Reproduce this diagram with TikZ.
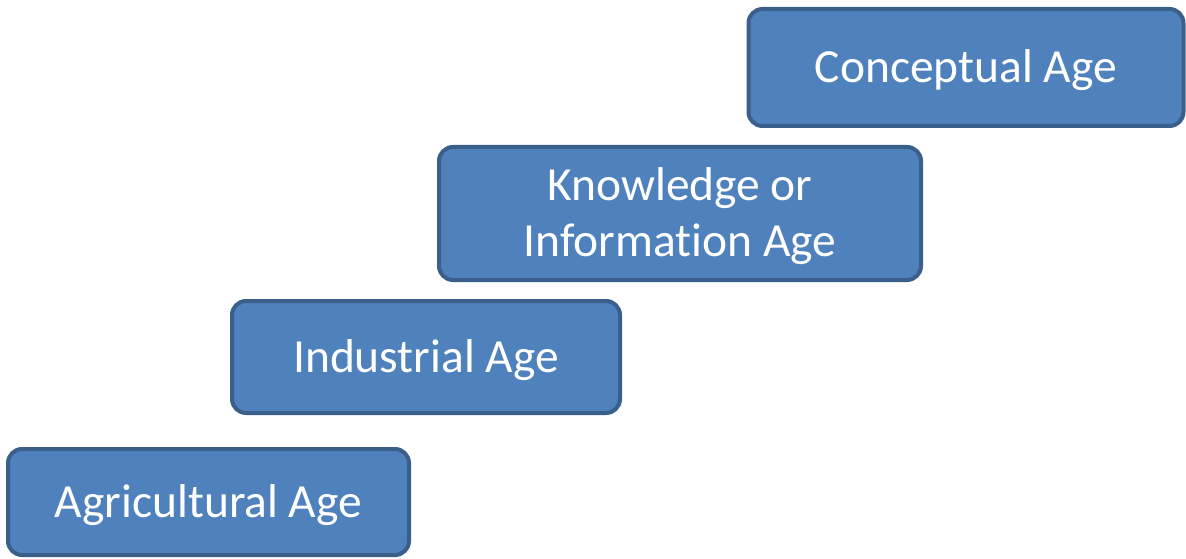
\documentclass[tikz,border=0pt]{standalone}
\usepackage{fontspec}
\setmainfont{Carlito}[Ligatures=NoCommon]
\definecolor{agefill}{HTML}{4F81BD}
\definecolor{ageline}{HTML}{3A5F8B}
\tikzset{
  agebox/.style={draw=ageline, fill=agefill, line width=4pt, rounded corners=14pt,
    text=white, align=center, font=\fontsize{47.5}{56}\selectfont, inner sep=0pt,
    text height=30pt, text depth=0pt},
}
\begin{document}
\begin{tikzpicture}[x=1pt, y=1pt]
\useasboundingbox (0,0) rectangle (1186,558); % taille de l'image

\node[agebox, minimum width=401pt, minimum height=106pt] (agri) at (208.5,56) {Agricultural Age};
\node[agebox, minimum width=388pt, minimum height=112pt] (indus) at (426,201) {Industrial Age};
\node[agebox, minimum width=482pt, minimum height=133pt, text height=86pt] (know) at (680,344.5) {Knowledge or\\Information Age};
\node[agebox, minimum width=435pt, minimum height=117pt] (concept) at (966,490.5) {Conceptual Age};
\end{tikzpicture}
\end{document}
